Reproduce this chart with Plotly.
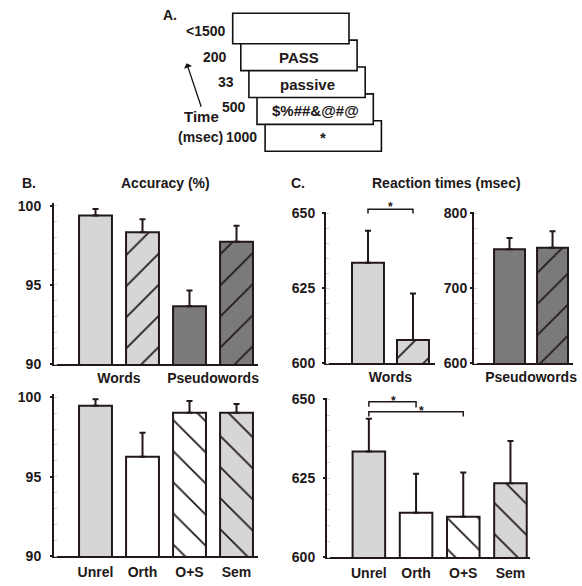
import html
import plotly.graph_objects as go

# ---------------- data ----------------
trial_durations = ["<1500", "200", "33", "500", "1000"]
trial_stimuli = ["", "PASS", "passive", "$%##&@#@", "*"]

acc_top_groups = ["Words", "Pseudowords"]
acc_top_values = [99.4, 98.33, 93.65, 97.74]
acc_top_err = [0.4, 0.83, 1.0, 1.0]

prime_types = ["Unrel", "Orth", "O+S", "Sem"]
acc_bottom_values = [99.47, 96.26, 99.03, 99.03]
acc_bottom_err = [0.4, 1.51, 0.74, 0.55]

rt_words_values = [633.5, 607.8]
rt_words_err = [10.7, 15.5]
rt_pseudo_values = [752.0, 754.0]
rt_pseudo_err = [15.0, 22.0]

rt_bottom_values = [633.5, 614.1, 612.8, 623.4]
rt_bottom_err = [10.3, 12.3, 14.0, 13.4]

acc_ticks = [90, 95, 100]
rt_words_ticks = [600, 625, 650]
rt_pseudo_ticks = [600, 700, 800]

sig_words = [(0, 1)]
sig_bottom = [(0, 1), (0, 2)]

# ---------------- style ----------------
W, H = 582, 586
INK = "#221818"
LIGHT = "#d6d6d6"
DARK = "#7a7a7a"
WHITE = "#ffffff"
FAM = "Liberation Sans, Arial, sans-serif"
BOLD = dict(family=FAM, size=14, color=INK, weight="bold")


def px(x):
    return x / W


def py(y):
    return 1 - y / H


fig = go.Figure()


def add_bars(y_vals, err, colors, shapes, width, xa, ya):
    for i, (v, e, c, s) in enumerate(zip(y_vals, err, colors, shapes)):
        fig.add_trace(go.Bar(
            x=[i], y=[v], width=width, xaxis=xa, yaxis=ya, showlegend=False,
            hoverinfo="skip",
            marker=dict(color=c, line=dict(color=INK, width=2),
                        pattern=dict(shape=s, fgcolor=INK, fgopacity=1, size=22,
                                     solidity=0.08, fillmode="overlay")),
            error_y=dict(type="data", symmetric=False, array=[e],
                         arrayminus=[0], color=INK, thickness=2, width=3),
        ))


top_colors = [LIGHT, LIGHT, DARK, DARK]
top_shapes = ["", "/", "", "/"]
bottom_colors = [LIGHT, WHITE, WHITE, LIGHT]
bottom_shapes = ["", "", "\\", "\\"]

add_bars(acc_top_values, acc_top_err, top_colors, top_shapes, 0.70, "x", "y")
add_bars(acc_bottom_values, acc_bottom_err, bottom_colors, bottom_shapes, 0.70, "x2", "y2")
add_bars(rt_words_values, rt_words_err, top_colors[:2], top_shapes[:2], 0.71, "x3", "y3")
add_bars(rt_pseudo_values, rt_pseudo_err, top_colors[2:], top_shapes[2:], 0.72, "x4", "y4")
add_bars(rt_bottom_values, rt_bottom_err, bottom_colors, bottom_shapes, 0.69, "x5", "y5")


def xax(dom, rng, tickvals, ticktext, standoff=2):
    return dict(domain=[px(dom[0]), px(dom[1])], range=rng, showline=True,
                linecolor=INK, linewidth=2, showgrid=False, zeroline=False,
                ticks="", tickvals=tickvals, ticktext=ticktext, tickfont=BOLD,
                ticklabelstandoff=standoff, ticklabeloverflow="allow",
                automargin=False, fixedrange=True)


def yax(dom, rng, tickvals, standoff, anchor, minor_step):
    return dict(domain=[py(dom[1]), py(dom[0])], range=rng, showline=True,
                linecolor=INK, linewidth=2, showgrid=False, zeroline=False,
                ticks="outside", ticklen=2, tickwidth=1.5, tickcolor=INK,
                tickvals=tickvals, ticklabelstandoff=standoff, anchor=anchor,
                tickfont=BOLD, automargin=False,
                minor=dict(ticks="inside", ticklen=3, tickcolor="#d0d0d0",
                           dtick=minor_step, tickwidth=1),
                fixedrange=True)


mid_top = [(i + 0.5) for i in range(0, len(acc_top_values), 2)]

fig.update_layout(
    width=W, height=H, margin=dict(l=0, r=0, t=0, b=0, autoexpand=False),
    paper_bgcolor="white", plot_bgcolor="white", barmode="overlay",
    font=BOLD,
    xaxis=xax((54, 258), [-0.883, 3.457], mid_top, acc_top_groups, 0),
    yaxis=yax((202.8, 364), [90, 100.2], acc_ticks, 6, "x", 1),
    xaxis2=xax((54, 258), [-0.883, 3.457], list(range(len(prime_types))), prime_types, 2),
    yaxis2=yax((394.1, 556), [90, 100.2], acc_ticks, 6, "x2", 1),
    xaxis3=xax((326, 435), [-0.933, 1.489], [0.5], acc_top_groups[:1], 0),
    yaxis3=yax((211.8, 363.3), [600, 650.5], rt_words_ticks, 4, "x3", 5),
    xaxis4=xax((474, 573), [-0.826, 1.476], [0.5], acc_top_groups[1:], 0),
    yaxis4=yax((211.8, 363.3), [600, 802], rt_pseudo_ticks, 0, "x4", 20),
    xaxis5=xax((327, 530), [-0.887, 3.414], list(range(len(prime_types))), prime_types, 2),
    yaxis5=yax((397.7, 557.3), [600, 650.5], rt_words_ticks, 5, "x5", 5),
)
for i in range(1, 6):
    s = "" if i == 1 else str(i)
    fig.layout["xaxis" + s].anchor = "y" + s

shapes = []
annotations = []


def note(x, y, text, xanchor="center", xref="paper", size=14):
    annotations.append(dict(xref=xref, yref="paper", x=x, y=y, text=text,
                            showarrow=False, xanchor=xanchor, yanchor="middle",
                            font=dict(family=FAM, size=size, color=INK, weight="bold")))


def bracket(xref, a, b, ytop, ybot_a, ybot_b):
    shapes.append(dict(type="path", xref=xref, yref="paper",
                       path=f"M {a} {py(ybot_a)} L {a} {py(ytop)} L {b} {py(ytop)} L {b} {py(ybot_b)}",
                       line=dict(color=INK, width=1.5)))


for (a, b) in sig_words:
    bracket("x3", a, b, 209.3, 213.5, 213.5)
    note((a + b) / 2, py(207), "*", xref="x3", size=12)

br_y = [(401.7, 406.7, 407.5), (411.7, 416.5, 416.5)]
star_pos = [(0.53, 400.5), (1.12, 411)]
for (a, b), (yt, ya, yb), (sx, sy) in zip(sig_bottom, br_y, star_pos):
    bracket("x5", a, b, yt, ya, yb)
    note(sx, py(sy), "*", xref="x5", size=12)

# ---- panel A: trial diagram ----
box_w, box_h = 116.3, 30.5
tops = [13.3 + 26.85 * i for i in range(len(trial_durations))]
lefts = [232.7 + 8.1 * i for i in range(len(trial_durations))]
for i in reversed(range(len(trial_durations))):
    shapes.append(dict(type="rect", xref="paper", yref="paper",
                       x0=px(lefts[i]), x1=px(lefts[i] + box_w),
                       y0=py(tops[i] + box_h), y1=py(tops[i]),
                       fillcolor="white", line=dict(color="#111111", width=1.6),
                       layer="above"))

dur_pos = [(227.5, 30.7), (229, 57), (236, 81.7), (247.5, 107), (259, 136.7)]
for txt, (x, y) in zip(trial_durations, dur_pos):
    note(px(x), py(y), html.escape(txt, quote=False), xanchor="right")

for i, txt in enumerate(trial_stimuli):
    if not txt:
        continue
    vis_top = tops[i - 1] + box_h if i > 0 else tops[i]
    cy = (vis_top + tops[i] + box_h) / 2
    note(px(lefts[i] + box_w / 2), py(cy), html.escape(txt, quote=False), size=15)

annotations.append(dict(xref="paper", yref="paper", x=px(186.7), y=py(63.3), ax=15, ay=45,
                        text="", showarrow=True, arrowhead=1, arrowsize=1.1,
                        arrowwidth=1.3, arrowcolor="#111111"))
note(px(201.7), py(117), "Time", size=15)
note(px(200), py(137), "(msec)", size=14)
note(px(161), py(15), "A.", xanchor="left")
note(px(20), py(183), "B.", xanchor="left")
note(px(165), py(183), "Accuracy (%)")
note(px(289), py(183), "C.", xanchor="left")
note(px(446), py(183), "Reaction times (msec)")

fig.update_layout(shapes=shapes, annotations=annotations)
fig.write_html("out.html", config={"displayModeBar": False},
               post_script="document.body.style.margin='0';document.body.style.padding='0';")
